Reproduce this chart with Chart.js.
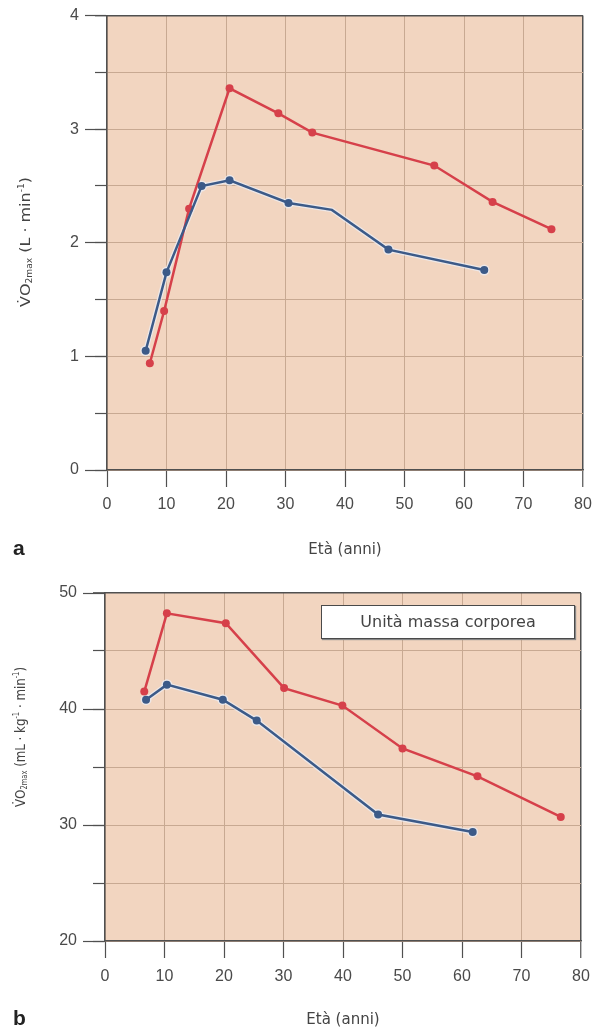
<!DOCTYPE html>
<html><head><meta charset="utf-8">
<script src="https://cdn.jsdelivr.net/npm/chart.js@4.4.1/dist/chart.umd.min.js"></script>
<style>
html,body{margin:0;padding:0;background:#fff}
body{width:597px;height:1030px;position:relative;overflow:hidden;font-family:"Liberation Sans",Arial,sans-serif}
#ca{position:absolute;left:0;top:0}
#cb{position:absolute;left:0;top:560px}
.lab{position:absolute;font-weight:bold;font-size:21px;color:#222;line-height:1}
#legendBox{position:absolute;left:321px;top:605px;width:252px;height:32px;background:#fff;border:1px solid #4a4a4a;box-shadow:1px 1px 1px #888;font-family:"DejaVu Sans",sans-serif;font-size:16px;color:#444;text-align:center;line-height:32px}
.ytitle{position:absolute;left:0;top:0;white-space:nowrap;color:#444;font-family:"DejaVu Sans",sans-serif;font-size:14px;line-height:1}
.ytitle sub{font-size:8px;vertical-align:-2px}
.ytitle sup{font-size:8px;vertical-align:6px}
</style></head>
<body>
<canvas id="ca" width="597" height="560"></canvas>
<canvas id="cb" width="597" height="470"></canvas>
<div class="lab" style="left:13px;top:537px">a</div>
<div class="lab" style="left:13px;top:1007px">b</div>
<div id="legendBox">Unità massa corporea</div>
<div class="ytitle" id="yta"></div>
<div class="ytitle" id="ytb"></div>
<script>
// ---- Panel a: absolute VO2max (L·min-1) vs age ----
const ageA_blue = [6.5, 10.0, 15.9, 20.6, 30.5, 37.8, 47.3, 63.4];
const vo2A_blue = [1.05, 1.74, 2.50, 2.55, 2.35, 2.29, 1.94, 1.76];
const ageA_red  = [7.2, 9.6, 13.8, 20.6, 28.8, 34.5, 55.0, 64.8, 74.7];
const vo2A_red  = [0.94, 1.40, 2.30, 3.36, 3.14, 2.97, 2.68, 2.36, 2.12];
// ---- Panel b: relative VO2max (mL·kg-1·min-1) vs age ----
const ageB_blue = [6.9, 10.4, 19.8, 25.5, 45.9, 61.8];
const vo2B_blue = [40.8, 42.1, 40.8, 39.0, 30.9, 29.4];
const ageB_red  = [6.6, 10.4, 20.3, 30.1, 39.9, 50.0, 62.6, 76.6];
const vo2B_red  = [41.5, 48.25, 47.4, 41.8, 40.3, 36.6, 34.2, 30.7];
// ---- axis ticks / labels ----
const xTicks = [0, 10, 20, 30, 40, 50, 60, 70, 80];
const yTicksA = [0, 1, 2, 3, 4];
const yTicksB = [20, 30, 40, 50];
const xTitle = 'Età (anni)';
const yTitleA = 'V\u0307O<sub>2max</sub> (L \u00b7 min<sup>-1</sup>)';
const yTitleB = 'V\u0307O<sub>2max</sub> (mL \u00b7 kg<sup>-1</sup> \u00b7 min<sup>-1</sup>)';

function placeTitle(id, html, cx, cy, len) {
  const el = document.getElementById(id);
  el.innerHTML = html;
  const w = el.offsetWidth, h = el.offsetHeight;
  const k = len / w;
  el.style.left = (cx - w / 2) + 'px';
  el.style.top = (cy - h / 2) + 'px';
  el.style.transform = 'rotate(-90deg) scaleX(' + k.toFixed(3) + ')';
  el.style.transformOrigin = '50% 50%';
}
placeTitle('yta', yTitleA, 26, 242, 130);
placeTitle('ytb', yTitleB, 21, 737, 140);

const RED = '#d6404a', BLUE = '#3c5a88', HALO = 'rgba(235,238,245,0.75)';
const BG = '#f2d5c0', GRID = '#c8a992', DARK = '#505050', TXT = '#4a4a4a';
const FONT = 'Liberation Sans';

const bgPlugin = {
  id: 'bg',
  beforeDraw(chart) {
    const {ctx, chartArea: a} = chart;
    ctx.save();
    ctx.fillStyle = BG;
    ctx.fillRect(a.left, a.top, a.right - a.left, a.bottom - a.top);
    ctx.restore();
  }
};

function pts(xs, ys) { return xs.map((x, i) => ({x: x, y: ys[i]})); }

function build(canvasId, o) {
  const xMin = xTicks[0], xMax = xTicks[xTicks.length - 1];
  const yMin = o.yTicks[0], yMax = o.yTicks[o.yTicks.length - 1];
  return new Chart(document.getElementById(canvasId), {
    type: 'line',
    data: {
      datasets: [
        {data: pts(o.bx, o.by), borderColor: BLUE, backgroundColor: BLUE, borderWidth: 2.5,
         pointRadius: o.bRadius, pointHoverRadius: 0, pointBorderWidth: 0, tension: 0, yAxisID: 'y'},
        {data: pts(o.rx, o.ry), borderColor: RED, backgroundColor: RED, borderWidth: 2.5,
         pointRadius: 4, pointHoverRadius: 0, pointBorderWidth: 0, tension: 0, yAxisID: 'y'},
        {data: pts(o.bx, o.by), borderColor: HALO, backgroundColor: HALO, borderWidth: 5,
         pointRadius: o.hRadius, pointHoverRadius: 0, pointBorderWidth: 0, tension: 0, yAxisID: 'y'}
      ]
    },
    options: {
      responsive: false, animation: false, devicePixelRatio: 1,
      layout: {padding: o.padding},
      plugins: {legend: {display: false}, tooltip: {enabled: false}},
      events: [],
      scales: {
        x: {
          type: 'linear', position: 'bottom', min: xMin, max: xMax,
          afterBuildTicks: s => { s.ticks = xTicks.map(v => ({value: v})); },
          afterFit: s => { s.height = o.xHeight; },
          ticks: {color: TXT, font: {family: FONT, size: 16, lineHeight: o.xLH}, padding: 5, maxRotation: 0},
          grid: {color: c => (c.tick && c.tick.value === xMax) ? DARK : GRID, lineWidth: c => (c.tick && c.tick.value === xMax) ? 1.5 : 1,
                 tickColor: DARK, tickLength: 17, tickWidth: 1.2},
          border: {display: true, color: DARK, width: 1.5},
          title: {display: true, text: xTitle, color: '#444', font: {family: 'DejaVu Sans', size: 15}, padding: {top: 0, bottom: 1}}
        },
        y: {
          type: 'linear', position: 'left', weight: 1, min: yMin, max: yMax,
          afterBuildTicks: s => { s.ticks = o.yTicks.map(v => ({value: v})); },
          afterFit: s => { s.width = o.yWidth; },
          ticks: {color: TXT, font: {family: FONT, size: 16}, padding: 6},
          grid: {drawOnChartArea: false, tickColor: DARK, tickLength: 22, tickWidth: 1.2},
          border: {display: true, color: DARK, width: 1.5}
        },
        yMinor: {
          type: 'linear', position: 'left', weight: 0, min: yMin, max: yMax,
          ticks: {display: false, stepSize: o.minorStep},
          afterFit: s => { s.width = 0; },
          grid: {drawOnChartArea: true, color: c => (c.tick && c.tick.value === yMax) ? DARK : GRID,
                 lineWidth: c => (c.tick && c.tick.value === yMax) ? 1.5 : 1,
                 tickColor: DARK, tickLength: 12, tickWidth: 1.2},
          border: {display: false}
        }
      }
    },
    plugins: [bgPlugin]
  });
}

build('ca', {
  bx: ageA_blue, by: vo2A_blue, rx: ageA_red, ry: vo2A_red,
  bRadius: c => c.dataIndex === 5 ? 0 : 4,
  hRadius: c => c.dataIndex === 5 ? 0 : 5.5,
  yTicks: yTicksA, minorStep: 0.5,
  padding: {left: 0, right: 14, top: 15, bottom: 0},
  xHeight: 90, yWidth: 107, xLH: 1.625
});
build('cb', {
  bx: ageB_blue, by: vo2B_blue, rx: ageB_red, ry: vo2B_red,
  bRadius: 4, hRadius: 5.5,
  yTicks: yTicksB, minorStep: 5,
  padding: {left: 0, right: 16, top: 33, bottom: 0},
  xHeight: 89, yWidth: 105, xLH: 1.75
});
</script>
</body></html>
